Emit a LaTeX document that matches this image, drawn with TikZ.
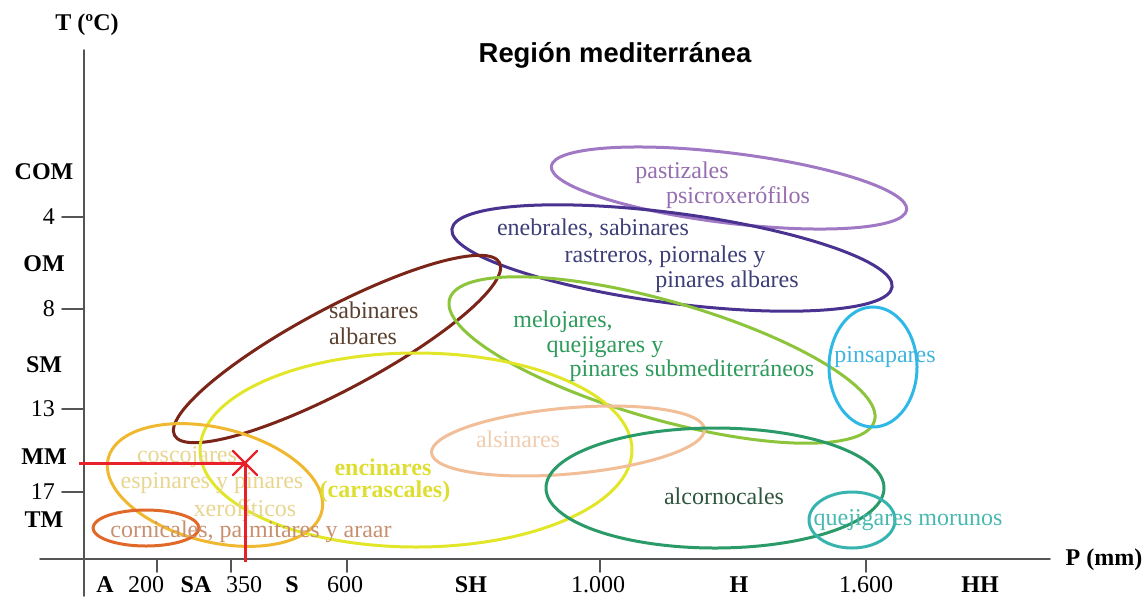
\documentclass[tikz,border=0pt]{standalone}
\usepackage{fontspec}
\setmainfont{Liberation Serif}
\newfontfamily\titlefont{Liberation Sans}
\definecolor{ejegris}{RGB}{85,85,85}
\definecolor{cpast}{RGB}{160,120,196}
\definecolor{tpast}{RGB}{150,110,175}
\definecolor{cene}{RGB}{74,50,144}
\definecolor{tene}{RGB}{62,62,120}
\definecolor{csab}{RGB}{123,36,24}
\definecolor{tsab}{RGB}{90,64,48}
\definecolor{cmel}{RGB}{140,196,60}
\definecolor{tmel}{RGB}{46,154,92}
\definecolor{cenc}{RGB}{226,230,40}
\definecolor{tenc}{RGB}{222,222,50}
\definecolor{calsi}{RGB}{242,190,152}
\definecolor{talsi}{RGB}{240,205,176}
\definecolor{calc}{RGB}{42,154,104}
\definecolor{talc}{RGB}{47,85,64}
\definecolor{cpins}{RGB}{46,184,230}
\definecolor{tpins}{RGB}{64,180,220}
\definecolor{cmor}{RGB}{56,180,176}
\definecolor{tmor}{RGB}{72,184,176}
\definecolor{ccosc}{RGB}{240,184,48}
\definecolor{tcosc}{RGB}{232,213,144}
\definecolor{ccorn}{RGB}{224,104,40}
\definecolor{tcorn}{RGB}{200,144,112}
\definecolor{rojo}{RGB}{232,32,42}
\begin{document}
\begin{tikzpicture}[x=0.5pt,y=-0.5pt,font=\fontsize{12}{14}\selectfont,line join=round,line cap=round,
	axis/.style={ejegris,line width=0.8pt},
	zona/.style={line width=1.5pt},
	eje/.style={font=\fontsize{12}{14}\selectfont\bfseries}]
	\useasboundingbox (0,0) rectangle (1145,596);
	% ejes
	\draw[axis] (84,50)--(84,596);
	\draw[axis] (40,559)--(1050,559);
	\node[eje] (tlab) at (87,25) {T (ºC)};
	\node[eje] (plab) at (1104,560) {P (mm)};
	\node[font=\fontsize{13.7}{16}\selectfont\titlefont\bfseries] (titulo) at (615,55) {Región mediterránea};
	\foreach \yv/\lab in {217/4,309/8,409/13,492/17}{
		\draw[axis] (62,\yv)--(84,\yv);
		\node[anchor=east] (yt\lab) at (62,\yv) {\lab};}
	\foreach \yv/\lab in {172/COM,264/OM,365/SM,457/MM,520/TM}
		\node[eje] (yz\lab) at (44,\yv) {\lab};
	\foreach \xv/\lab/\nm in {157/200/a,231/350/b,347/600/c,600/1.000/d,866/1.600/e}{
		\draw[axis] (\xv,559)--(\xv,572);}
	\foreach \xv/\lab/\nm in {146/200/a,244/350/b,345/600/c,598/1.000/d,866/1.600/e}
		\node (xt\nm) at (\xv,585) {\lab};
	\foreach \xv/\lab in {105/A,196/SA,292/S,471/SH,739/H,980/HH}
		\node[eje] (xz\lab) at (\xv,585) {\lab};
	% zonas de vegetacion
	\draw[zona,cpast,rotate around={-7:(729,188)}] (729,188) ellipse [x radius=179,y radius=35];
	\draw[zona,cene,rotate around={-7.5:(672,258)}] (672,258) ellipse [x radius=222,y radius=45];
	\draw[zona,csab,rotate around={28:(337,349)}] (337,349) ellipse [x radius=184,y radius=41];
	\draw[zona,cmel,rotate around={-16:(662,360)}] (662,360) ellipse [x radius=221,y radius=59];
	\draw[zona,cenc] (416,450) ellipse [x radius=216,y radius=97];
	\draw[zona,calsi,rotate around={5:(568,441)}] (568,441) ellipse [x radius=137,y radius=33];
	\draw[zona,calc] (715,488) ellipse [x radius=169,y radius=60];
	\draw[zona,cpins] (873,367) ellipse [x radius=44,y radius=60];
	\draw[zona,cmor] (852,520) ellipse [x radius=43,y radius=28];
	\draw[zona,ccosc,rotate around={-14:(215,485)}] (215,485) ellipse [x radius=110,y radius=57];
	\draw[zona,ccorn] (146,528) ellipse [x radius=53,y radius=18];
	% textos
	\node[tpast] (past1) at (682,173) {pastizales};
	\node[tpast] (past2) at (738,198) {psicroxerófilos};
	\node[tene] (ene1) at (593,229) {enebrales, sabinares};
	\node[tene] (ene2) at (665,257) {rastreros, piornales y};
	\node[tene] (ene3) at (727,282) {pinares albares};
	\node[tsab,anchor=west] (sab1) at (322,310) {sabinares};
	\node[tsab,anchor=west] (sab2) at (322,336) {albares};
	\node[tmel] (mel1) at (563,322) {melojares,};
	\node[tmel] (mel2) at (605,347) {quejigares y};
	\node[tmel] (mel3) at (692,371) {pinares submediterráneos};
	\node[tenc,font=\fontsize{12}{14}\selectfont\bfseries] (enc1) at (383,467) {encinares};
	\node[tenc,font=\fontsize{12}{14}\selectfont\bfseries] (enc2) at (385,492) {(carrascales)};
	\node[talsi] (alsi) at (518,439) {alsinares};
	\node[talc] (alc) at (724,496) {alcornocales};
	\node[tpins] (pins) at (885,357) {pinsapares};
	\node[tmor] (mor) at (908,520) {quejigares morunos};
	\node[tcosc] (cosc1) at (187,457) {coscojares};
	\node[tcosc] (cosc2) at (212,483) {espinares y pinares};
	\node[tcosc] (cosc3) at (245,508) {xerofíticos};
	\node[tcorn] (corn) at (251,532) {cornicales, palmitares y araar};
	% punto de ejemplo
	\coordinate (pto) at (245,463);
	\draw[rojo,line width=1.5pt,line cap=butt] (79,463)--(pto)--(245,562);
	\draw[rojo,line width=1.2pt] (233,451)--(257,475) (233,475)--(257,451);
\end{tikzpicture}
\end{document}
